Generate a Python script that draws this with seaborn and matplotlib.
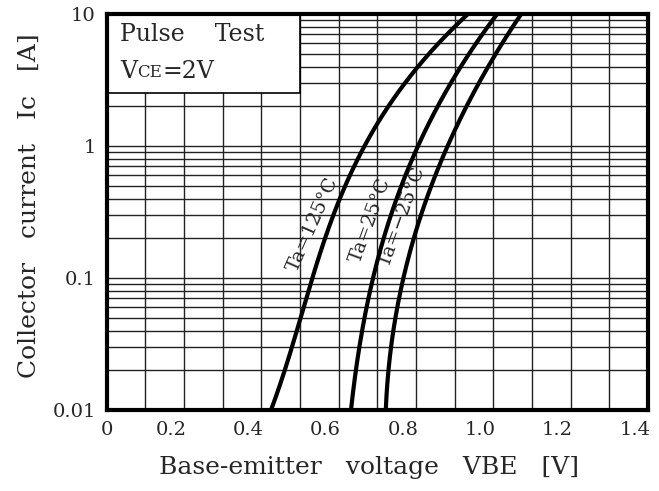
import numpy as np
import pandas as pd
import matplotlib
matplotlib.use("Agg")
import matplotlib.pyplot as plt
import matplotlib.transforms as mtransforms
from matplotlib.patches import Rectangle
import seaborn as sns

# ---- data ----
vbe_125 = [0.426, 0.480, 0.588, 0.704, 0.756, 0.808, 0.859, 0.898, 0.936]
ic_125 = [0.01, 0.048, 0.275, 1.57, 2.75, 4.26, 6.0, 7.96, 10.0]
vbe_25 = [0.632, 0.666, 0.730, 0.795, 0.841, 0.880, 0.931, 0.970, 1.011]
ic_25 = [0.01, 0.048, 0.275, 0.826, 1.66, 2.75, 4.72, 7.17, 10.0]
vbe_m25 = [0.722, 0.748, 0.807, 0.872, 0.919, 0.954, 0.996, 1.039, 1.073]
ic_m25 = [0.01, 0.048, 0.275, 0.826, 1.66, 2.75, 4.72, 7.17, 10.0]
curve_labels = ["Ta=125°C", "Ta=25°C", "Ta=\u221225°C"]
x_ticks = [0, 0.2, 0.4, 0.6, 0.8, 1.0, 1.2, 1.4]
x_tick_labels = ["0", "0.2", "0.4", "0.6", "0.8", "1.0", "1.2", "1.4"]
y_ticks = [0.01, 0.1, 1, 10]
y_tick_labels = ["0.01", "0.1", "1", "10"]


def smooth(xs, ys, n=150):
    """Least-squares smoothing of the read points: V as a cubic in log10(Ic)."""
    xs = np.asarray(xs, float)
    ly = np.log10(np.asarray(ys, float))
    w = np.ones_like(xs)
    w[0] = w[-1] = 2.5
    w[2] = w[3] = 2.0
    coef = np.polyfit(ly, xs, 3, w=w)
    t = np.linspace(ly[0], ly[-1], n)
    return np.polyval(coef, t), 10 ** t


frames = []
for lab, xs, ys in zip(curve_labels, [vbe_125, vbe_25, vbe_m25], [ic_125, ic_25, ic_m25]):
    sx, sy = smooth(xs, ys)
    frames.append(pd.DataFrame({"VBE": sx, "IC": sy, "Ta": lab}))
df = pd.concat(frames, ignore_index=True)

sns.set_style("white")
plt.rcParams["font.family"] = ["DejaVu Serif"]

fig = plt.figure(figsize=(6.59, 4.91), dpi=100)
ax = fig.add_axes([0.162, 0.165, 0.821, 0.8065])

sns.lineplot(data=df, x="VBE", y="IC", hue="Ta", palette=["black"] * 3,
             sort=False, estimator=None, linewidth=3.0, legend=False, ax=ax)
for ln in ax.get_lines():
    ln.set_zorder(5)
    ln.set_solid_capstyle("butt")

ax.set_yscale("log")
ax.set_xlim(0, 1.4)
ax.set_ylim(0.01, 10)

ax.set_xticks(x_ticks)
ax.set_xticks(np.arange(0.1, 1.4, 0.2), minor=True)
ax.set_xticklabels(x_tick_labels, fontsize=14)
ax.set_yticks(y_ticks)
ax.set_yticklabels(y_tick_labels, fontsize=14)
ax.yaxis.set_minor_locator(matplotlib.ticker.LogLocator(base=10, subs=np.arange(2, 10)))
ax.yaxis.set_minor_formatter(matplotlib.ticker.NullFormatter())
ax.tick_params(which="both", length=0)
ax.tick_params(axis="x", pad=8)
ax.tick_params(axis="y", pad=8)

off = mtransforms.ScaledTranslation(-13 / 100, 0, fig.dpi_scale_trans)
for i, lbl in enumerate(ax.get_xticklabels()):
    if i > 0:
        lbl.set_transform(lbl.get_transform() + off)

ax.grid(True, which="both", color="#222222", linewidth=1.0)
for s in ax.spines.values():
    s.set_linewidth(3.0)
    s.set_color("black")
    s.set_zorder(10)

ax.set_xlabel("Base-emitter   voltage   VBE   [V]", fontsize=18, labelpad=12)
ax.xaxis.label.set_x(0.485)
ax.set_ylabel("Collector   current   Ic   [A]", fontsize=18, labelpad=8)
ax.yaxis.label.set_y(0.515)

# condition box
ax.add_patch(Rectangle((0, 0.80), 0.357, 0.20, transform=ax.transAxes,
                       facecolor="white", edgecolor="black", linewidth=1.2, zorder=4))
ax.text(0.025, 0.947, "Pulse    Test", transform=ax.transAxes, fontsize=17,
        va="center", ha="left", zorder=6)
t_v = ax.text(0.025, 0.855, "V", transform=ax.transAxes, fontsize=17,
              va="center", ha="left", zorder=6)
t_ce = ax.annotate("CE", xy=(1, 0), xycoords=t_v, fontsize=12, va="bottom", ha="left",
                   xytext=(0, 1.5), textcoords="offset points", zorder=6)
ax.annotate("=2V", xy=(1, 0), xycoords=t_ce, fontsize=17, va="bottom", ha="left",
            xytext=(0, -1.5), textcoords="offset points", zorder=6)

# curve labels
label_pos = [(0.533, 0.252, 66), (0.682, 0.275, 70), (0.765, 0.29, 70)]
for lab, (lx, ly, rot) in zip(curve_labels, label_pos):
    ax.text(lx, ly, lab, rotation=rot, rotation_mode="anchor", ha="center", va="center",
            fontsize=14, zorder=4)

fig.savefig("out.png", dpi=100)
